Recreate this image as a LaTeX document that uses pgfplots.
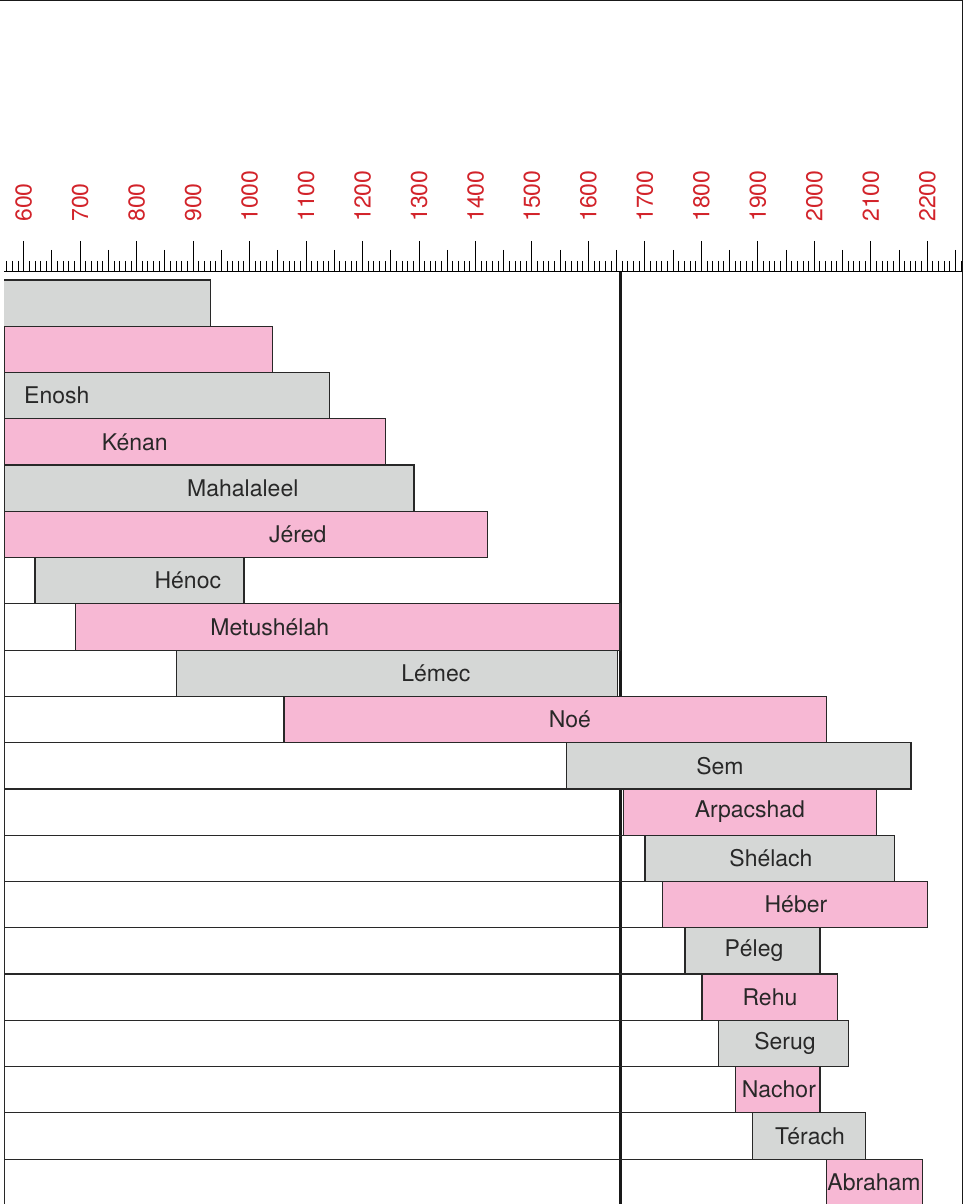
\documentclass[border=0pt]{standalone}
\usepackage{pgfplots}
\pgfplotsset{compat=1.18}
\usepackage{pgfplotstable}
\usepackage{fontspec}
\setmainfont{TeX Gyre Heros}
\definecolor{barpink}{RGB}{247,184,212}
\definecolor{bargray}{RGB}{213,215,214}
\definecolor{tickred}{RGB}{210,35,42}
\definecolor{txt}{RGB}{40,40,40}

% row, start (white part from 0), gray length, pink length
\pgfplotstableread{
row start gray pink
1  0    930 0
2  130  0   910
3  235  906 0
4  325  0   916
5  395  896 0
6  460  0   961
7  620  370 0
8  691  0   965
9  870  781 0
10 1061 0   960
11 1561 610 0
12 1662 0   448
13 1700 442 0
14 1731 0   470
15 1771 239 0
16 1801 0   240
17 1830 231 0
18 1861 0   149
19 1890 200 0
20 2022 0   169
}\bars

\pgfplotstableread{
row x name
3  658.5  Enosh
4  796.6  Kénan
5  987.9  Mahalaleel
6  1085.3 Jéred
7  890.5  Hénoc
8  1035.7 Metushélah
9  1329.8 Lémec
10 1567.1 Noé
11 1832.8 Sem
12 1886.0 Arpacshad
13 1923.2 Shélach
14 1967.4 Héber
15 1893.1 Péleg
16 1921.4 Rehu
17 1948.0 Serug
18 1937.3 Nachor
19 1992.2 Térach
20 2105.6 Abraham
}\labels

\pgfplotsset{common/.style={scale only axis, width=479pt, height=466pt,
  xmin=565, xmax=2261.5, ymin=0.327, ymax=20.47, y dir=reverse}}

\begin{document}
\begin{tikzpicture}
\begin{axis}[common,
  axis x line*=top, axis y line=none,
  xtick={600,700,...,2200},
  minor xtick={570,580,...,2260},
  extra x ticks={650,750,...,2250},
  extra x tick labels={},
  extra x tick style={major tick length=11pt},
  major tick length=15.5pt, minor tick length=5.5pt,
  xtick align=outside,
  tick style={black, line width=0.5pt},
  x axis line style={black, line width=0.5pt, -},
  xticklabel shift=9.5pt,
  xticklabel style={rotate=90, anchor=west, text=tickred,
    font=\fontsize{11.5}{11.5}\selectfont, inner sep=0pt},
  /pgf/number format/1000 sep={},
  /pgf/number format/assume math mode=true,
  clip=false]
  \addplot[line width=1.5pt, black!90] coordinates {(1657.4,0.327) (1657.4,20.47)};
  \coordinate (tl) at (axis description cs:0,1);
  \coordinate (br) at (axis description cs:1,0);
  \draw[line width=0.5pt, black!90] ([xshift=-2pt,yshift=135.5pt]axis description cs:0,1)
     -- ([yshift=135.5pt]axis description cs:1,1) -- (axis description cs:1,0);
\end{axis}
\begin{axis}[common, hide axis, xbar stacked, bar width=1]
  \addplot[draw=txt, fill=none, line width=0.6pt] table[x=start, y=row]{\bars};
  \addplot[draw=txt, fill=bargray, line width=0.6pt] table[x=gray, y=row]{\bars};
  \addplot[draw=txt, fill=barpink, line width=0.6pt] table[x=pink, y=row]{\bars};
\end{axis}
\begin{axis}[common, hide axis, clip=false]
  \addplot[only marks, mark=*, mark size=0pt,
    scatter/use mapped color={draw=none, fill=none},
    mark options={draw=none, fill=none},
    nodes near coords, point meta=explicit symbolic,
    nodes near coords align=center,
    every node near coord/.append style={font=\fontsize{11.5}{11.5}\selectfont, text=txt}]
    table[x=x, y=row, meta=name]{\labels};
\end{axis}
\pgfresetboundingbox
\useasboundingbox ([xshift=-2pt,yshift=136pt]tl) rectangle ([xshift=2pt]br);
\end{tikzpicture}
\end{document}
